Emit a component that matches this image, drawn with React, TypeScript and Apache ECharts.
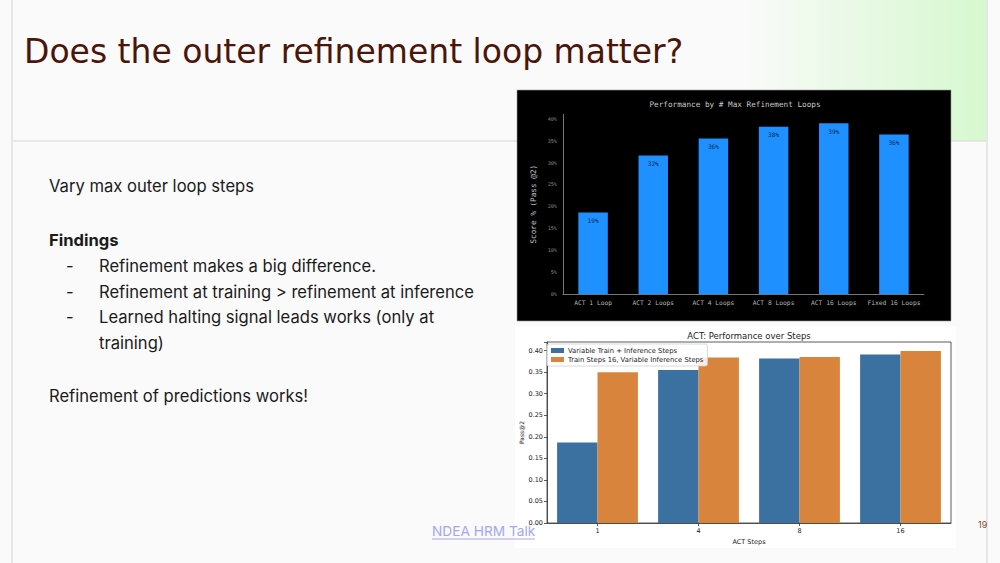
import React, { useEffect, useRef } from "react";
import * as echarts from "echarts";

// ---- Data ----
const slideTitle = "Does the outer refinement loop matter?";
const topTitle = "Performance by # Max Refinement Loops";
const topCategories = ["ACT 1 Loop", "ACT 2 Loops", "ACT 4 Loops", "ACT 8 Loops", "ACT 16 Loops", "Fixed 16 Loops"];
const topScores = [18.6, 31.6, 35.5, 38.2, 39.0, 36.4];

const bottomTitle = "ACT: Performance over Steps";
const stepCategories = ["1", "4", "8", "16"];
const seriesVarName = "Variable Train + Inference Steps";
const seriesFixedName = "Train Steps 16, Variable Inference Steps";
const variableTrainInference = [0.187, 0.355, 0.382, 0.391];
const trainSteps16 = [0.35, 0.384, 0.385, 0.399];

const bulletLines = [
  "Refinement makes a big difference.",
  "Refinement at training > refinement at inference",
  "Learned halting signal leads works (only at",
];

const MONO = "DejaVu Sans Mono";
const SANS = "DejaVu Sans";
const BODY = "Inter";

export default function App() {
  const ref = useRef<HTMLDivElement>(null);

  useEffect(() => {
    if (!ref.current) return;
    const chart = echarts.init(ref.current, null, { renderer: "svg" });

    const bodyText = (text: string, x: number, y: number, bold = false) => ({
      type: "text",
      x,
      y,
      z: 50,
      style: {
        text,
        fill: "#1b1b1b",
        font: `${bold ? "bold " : ""}16.6px ${BODY}`,
        verticalAlign: "middle",
      },
    });

    const bulletYs = [266, 291.5, 317];
    const graphics: any[] = [
      { type: "rect", z: -100, shape: { x: 0, y: 0, width: 1000, height: 563 }, style: { fill: "#fafafa" } },
      {
        type: "rect",
        z: -99,
        shape: { x: 740, y: 0, width: 247, height: 141 },
        style: {
          fill: {
            type: "linear",
            x: 0,
            y: 0,
            x2: 1,
            y2: 0,
            colorStops: [
              { offset: 0, color: "rgba(214,248,206,0)" },
              { offset: 1, color: "#d6f8cf" },
            ],
          },
        },
      },
      { type: "rect", z: -98, shape: { x: 11, y: 0, width: 2, height: 563 }, style: { fill: "#e6e6e6" } },
      { type: "rect", z: -98, shape: { x: 986, y: 0, width: 2, height: 563 }, style: { fill: "#e6e6e6" } },
      { type: "line", z: -98, shape: { x1: 13, y1: 141, x2: 986, y2: 141 }, style: { stroke: "#e0e0e0", lineWidth: 1.5 } },
      // top chart background
      { type: "rect", z: -90, shape: { x: 517, y: 90, width: 434, height: 231 }, style: { fill: "#000", stroke: "#9a9a9a", lineWidth: 0.6 } },
      // bottom chart background
      { type: "rect", z: -90, shape: { x: 515, y: 326, width: 441, height: 222 }, style: { fill: "#fff" } },
      // slide title
      {
        type: "text",
        x: 24,
        y: 51,
        z: 50,
        style: { text: slideTitle, fill: "#4a160a", font: `33px '${SANS}'`, verticalAlign: "middle" },
      },
      // chart titles
      {
        type: "text",
        x: 735,
        y: 104,
        z: 50,
        style: { text: topTitle, fill: "#c8c8c8", font: `7.7px '${MONO}'`, align: "center", verticalAlign: "middle" },
      },
      {
        type: "text",
        x: 749,
        y: 336,
        z: 50,
        style: { text: bottomTitle, fill: "#222", font: `8.5px '${SANS}'`, align: "center", verticalAlign: "middle" },
      },
      bodyText("Vary max outer loop steps", 49, 186),
      bodyText("Findings", 49, 240, true),
      ...bulletYs.map((y) => bodyText("-", 66, y)),
      ...bulletLines.map((t, i) => bodyText(t, 99, bulletYs[i])),
      bodyText("training)", 99, 342.5),
      bodyText("Refinement of predictions works!", 49, 395.5),
      // link
      {
        type: "text",
        x: 432,
        y: 531,
        z: 60,
        style: { text: "NDEA HRM Talk", fill: "#a3a8f0", font: `13.7px ${BODY}`, verticalAlign: "middle" },
      },
      { type: "line", z: 60, shape: { x1: 432, y1: 539, x2: 535, y2: 539 }, style: { stroke: "#a3a8f0", lineWidth: 1 } },
      {
        type: "text",
        x: 978,
        y: 524,
        z: 60,
        style: { text: "19", fill: "#8a4535", font: `9px ${BODY}`, verticalAlign: "middle" },
      },
    ];

    const isTick = (v: number, step: number) => Math.abs(v / step - Math.round(v / step)) < 1e-6;

    chart.setOption({
      animation: false,
      grid: [
        { left: 563, top: 114.4, width: 361, height: 179.6, show: false },
        { left: 547, top: 342, width: 404, height: 181, show: true, borderColor: "#333", borderWidth: 0.8 },
      ],
      legend: {
        data: [seriesVarName, seriesFixedName],
        orient: "vertical",
        left: 547,
        top: 344,
        itemWidth: 13,
        itemHeight: 5,
        itemGap: 2,
        icon: "rect",
        padding: [3, 4],
        backgroundColor: "rgba(255,255,255,0.85)",
        borderColor: "#d0d0d0",
        borderWidth: 0.8,
        borderRadius: 2,
        textStyle: { fontSize: 6.8, fontFamily: SANS, color: "#222", padding: [0, 0, 0, -1] },
      },
      xAxis: [
        {
          type: "category",
          gridIndex: 0,
          data: topCategories,
          axisLine: { show: true, lineStyle: { color: "#777", width: 1 } },
          axisTick: { show: false },
          axisLabel: { color: "#b5b5b5", fontSize: 6.3, fontFamily: MONO, margin: 5, interval: 0 },
        },
        {
          type: "category",
          gridIndex: 1,
          data: stepCategories,
          axisLine: { show: true, lineStyle: { color: "#333", width: 0.8 } },
          axisTick: { show: true, alignWithLabel: true, length: 3, lineStyle: { color: "#333", width: 0.8 } },
          axisLabel: { color: "#222", fontSize: 6.5, fontFamily: SANS, margin: 4 },
          name: "ACT Steps",
          nameLocation: "middle",
          nameGap: 15,
          nameTextStyle: { color: "#222", fontSize: 6.5, fontFamily: SANS },
        },
      ],
      yAxis: [
        {
          type: "value",
          gridIndex: 0,
          min: 0,
          max: 41,
          interval: 5,
          splitLine: { show: false },
          axisLine: { show: true, lineStyle: { color: "#777", width: 1 } },
          axisTick: { show: false },
          axisLabel: {
            color: "#8a8a8a",
            fontSize: 5.2,
            fontFamily: MONO,
            margin: 6,
            formatter: (v: number) => (isTick(v, 5) ? `${v}%` : ""),
          },
          name: "Score % (Pass @2)",
          nameLocation: "middle",
          nameGap: 26,
          nameTextStyle: { color: "#c0c0c0", fontSize: 7.7, fontFamily: MONO },
        },
        {
          type: "value",
          gridIndex: 1,
          min: 0,
          max: 0.42,
          interval: 0.05,
          splitLine: { show: false },
          axisLine: { show: true, lineStyle: { color: "#333", width: 0.8 } },
          axisTick: { show: true, length: 3, lineStyle: { color: "#333", width: 0.8 } },
          axisLabel: {
            color: "#222",
            fontSize: 6.5,
            fontFamily: SANS,
            margin: 4,
            formatter: (v: number) => (isTick(v, 0.05) ? v.toFixed(2) : ""),
          },
          name: "Pass@2",
          nameLocation: "middle",
          nameGap: 23,
          nameTextStyle: { color: "#222", fontSize: 6, fontFamily: SANS },
        },
      ],
      series: [
        {
          type: "bar",
          name: "Score",
          xAxisIndex: 0,
          yAxisIndex: 0,
          data: topScores,
          barWidth: "49%",
          itemStyle: { color: "#1e90ff" },
          label: {
            show: true,
            position: "insideTop",
            distance: 5,
            color: "#0d2c57",
            fontSize: 6.1,
            fontFamily: MONO,
            formatter: (p: any) => `${Math.round(p.value)}%`,
          },
        },
        {
          type: "bar",
          name: seriesVarName,
          xAxisIndex: 1,
          yAxisIndex: 1,
          data: variableTrainInference,
          barWidth: "40%",
          barGap: "0%",
          itemStyle: { color: "#3b71a0" },
        },
        {
          type: "bar",
          name: seriesFixedName,
          xAxisIndex: 1,
          yAxisIndex: 1,
          data: trainSteps16,
          barWidth: "40%",
          barGap: "0%",
          itemStyle: { color: "#d8843c" },
        },
      ],
      graphic: { elements: graphics },
    });

    return () => chart.dispose();
  }, []);

  return (
    <div
      ref={ref}
      style={{ position: "absolute", left: 0, top: 0, width: 1000, height: 563 }}
    />
  );
}
